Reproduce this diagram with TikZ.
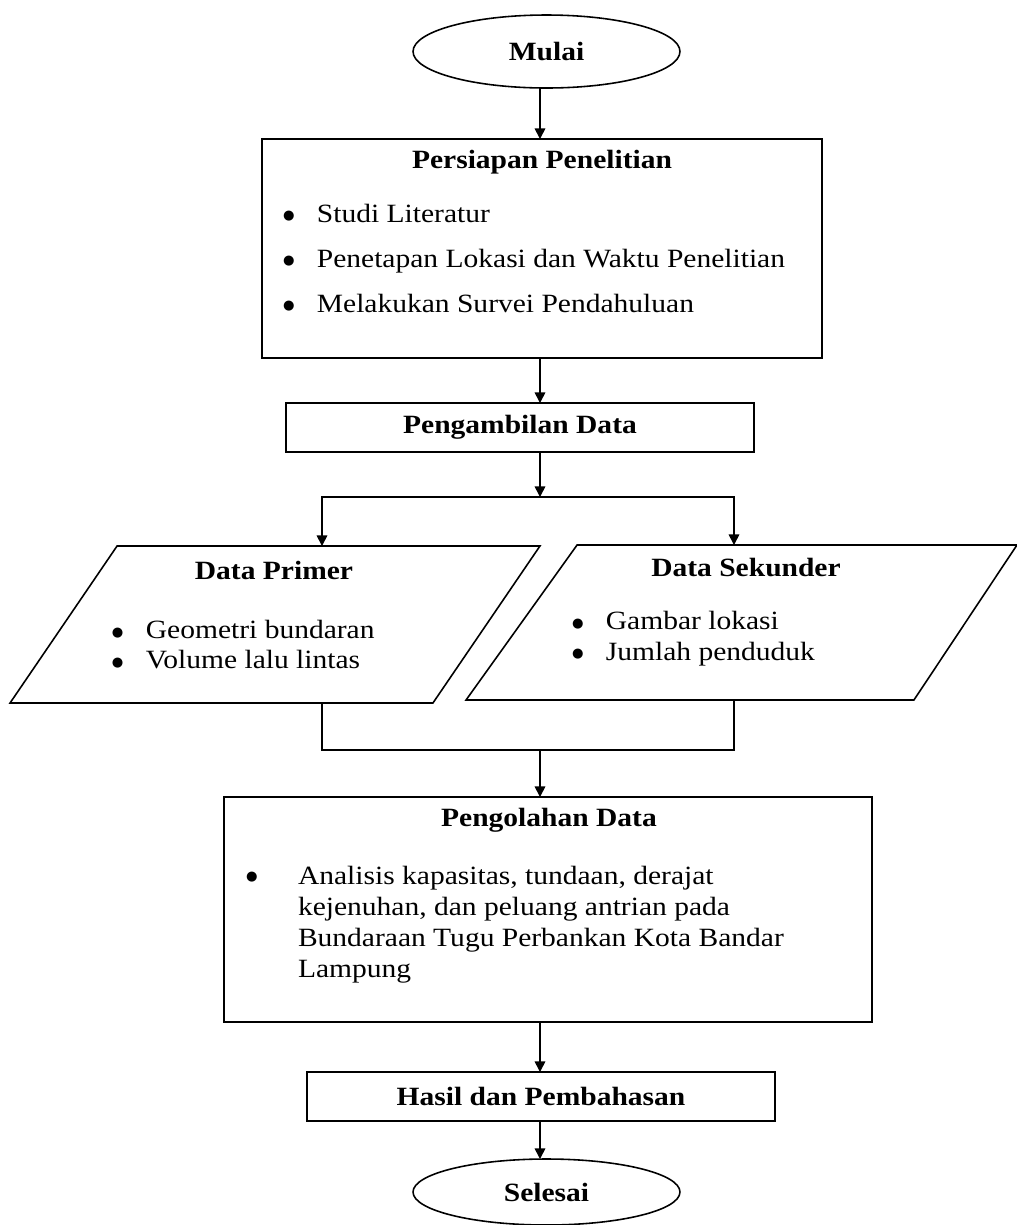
\documentclass[tikz,border=0pt]{standalone}
\usepackage{fontspec}
\setmainfont{Liberation Serif}[FakeStretch=1.12]
\newfontfamily\simbol{DejaVu Sans}
\usepackage{tikz}
\usetikzlibrary{shapes.geometric}
\usetikzlibrary{arrows.meta}
\usetikzlibrary{positioning}
\usetikzlibrary{calc}

\newcommand{\bulat}{\raisebox{1.3pt}{\simbol\fontsize{7.5}{7.5}\selectfont ●}}
\newcommand{\titik}[1]{\makebox[#1][l]{\bulat}}

\begin{document}
\begin{tikzpicture}[
            x=0.02cm, y=-0.02cm,
            every node/.style={font=\fontsize{15}{17.6}\selectfont, inner sep=0pt, outer sep=0pt},
            terminal/.style={ellipse, draw, line width=0.9pt, minimum width=5.34cm, minimum height=1.46cm, font=\fontsize{15}{17.6}\selectfont\bfseries},
            kotak/.style={rectangle, draw, line width=0.9pt},
            jajar/.style={rectangle},
            judul/.style={font=\fontsize{15}{17.6}\selectfont\bfseries},
            butir/.style={anchor=mid west},
            daftar/.style={anchor=north west, align=left},
            panah/.style={draw, line width=0.9pt, -{Triangle[length=6pt,width=6pt]}},
            garis/.style={draw, line width=0.9pt}
        ]
            \useasboundingbox (0,0) rectangle (1017,1225);
            \coordinate (sumbu) at (540,0);
            \coordinate (cabang) at (540,497);
            \coordinate (kolomPrimer) at (322,0);
            \coordinate (kolomSekunder) at (734,0);
            \coordinate (gabung) at (540,750);

            \node [terminal] (mulai) at (546.5,51.5) {Mulai};

            \node [kotak, minimum width=11.2cm, minimum height=4.38cm] (persiapan) at (542,248.5) {};
            \node [judul] (persiapanJudul) at (542,162) {Persiapan Penelitian};
            \node [butir] (studi) at (283,218) {\titik{19.3pt}Studi Literatur};
            \node [butir] (penetapan) at (283,263) {\titik{19.3pt}Penetapan Lokasi dan Waktu Penelitian};
            \node [butir] (survei) at (283,308) {\titik{19.3pt}Melakukan Survei Pendahuluan};

            \node [kotak, judul, minimum width=9.36cm, minimum height=0.98cm] (ambil) at (520,427.5) {Pengambilan Data};

            \node [jajar, minimum width=10.6cm, minimum height=3.14cm] (primer) at (275,624.5) {};
            \path [garis] ($(primer.north west)+(107,0)$) -- (primer.north east) -- ($(primer.south east)+(-107,0)$) -- (primer.south west) -- cycle;
            \node [judul] (primerJudul) at (274,570) {Data Primer};
            \node [daftar, font=\fontsize{15}{17.1}\selectfont] (primerIsi) at (112,620) {\titik{19.3pt}Geometri bundaran\\\titik{19.3pt}Volume lalu lintas};

            \node [jajar, minimum width=11.02cm, minimum height=3.1cm] (sekunder) at (741.5,622.5) {};
            \path [garis] ($(sekunder.north west)+(111,0)$) -- (sekunder.north east) -- ($(sekunder.south east)+(-103,0)$) -- (sekunder.south west) -- cycle;
            \node [judul] (sekunderJudul) at (746,568) {Data Sekunder};
            \node [daftar] (sekunderIsi) at (572,611) {\titik{19.3pt}Gambar lokasi\\\titik{19.3pt}Jumlah penduduk};

            \node [kotak, minimum width=12.96cm, minimum height=4.5cm] (olah) at (548,909.5) {};
            \node [judul] (olahJudul) at (549,820) {Pengolahan Data};
            \node [butir] (olahTitik) at (246,879) {\bulat};
            \node [daftar] (olahIsi) at (298,866) {Analisis kapasitas, tundaan, derajat\\kejenuhan, dan peluang antrian pada\\Bundaraan Tugu Perbankan Kota Bandar\\Lampung};

            \node [kotak, judul, minimum width=9.36cm, minimum height=0.98cm] (hasil) at (541,1096.5) {Hasil dan Pembahasan};

            \node [terminal, minimum height=1.32cm] (selesai) at (546.5,1192) {Selesai};

            \path [panah] (mulai.south -| sumbu) -- (persiapan.north -| sumbu);
            \path [panah] (persiapan.south -| sumbu) -- (ambil.north -| sumbu);
            \path [panah] (ambil.south -| sumbu) -- (cabang);
            \path [panah] (cabang) -| (primer.north -| kolomPrimer);
            \path [panah] (cabang) -| (sekunder.north -| kolomSekunder);
            \path [garis] (primer.south -| kolomPrimer) |- (gabung);
            \path [garis] (sekunder.south -| kolomSekunder) |- (gabung);
            \path [panah] (gabung) -- (olah.north -| sumbu);
            \path [panah] (olah.south -| sumbu) -- (hasil.north -| sumbu);
            \path [panah] (hasil.south -| sumbu) -- (selesai.north -| sumbu);
        \end{tikzpicture}
\end{document}
